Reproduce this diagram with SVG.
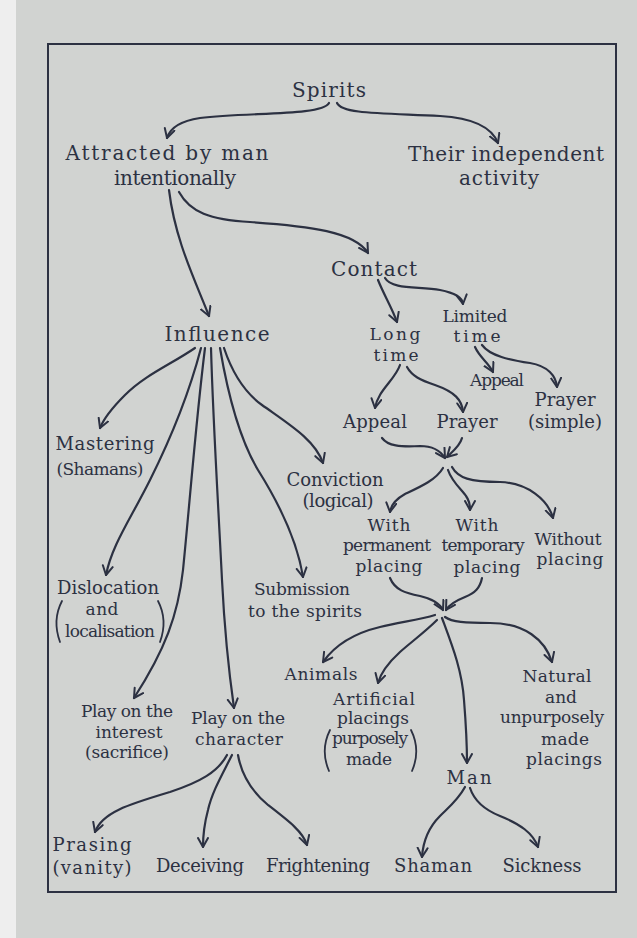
<svg xmlns="http://www.w3.org/2000/svg" width="637" height="938" viewBox="0 0 637 938">
<defs>
<marker id="ah" markerUnits="userSpaceOnUse" markerWidth="14" markerHeight="14" refX="10" refY="6" orient="auto">
<path d="M1,1 L10,6 L1,11" fill="none" stroke="#2c3142" stroke-width="2" stroke-linecap="round" stroke-linejoin="round"/>
</marker>
</defs>
<style>
text{font-family:"DejaVu Serif","Liberation Serif",serif;fill:#2c3142;text-anchor:middle;}
.l{font-size:20px;}
.m{font-size:18px;}
.s{font-size:17px;}
#connectors path{fill:none;stroke:#2c3142;stroke-width:2.2;stroke-linecap:round;marker-end:url(#ah);}
.br{fill:none;stroke:#2c3142;stroke-width:1.8;stroke-linecap:round;}
</style>
<rect x="0" y="0" width="637" height="938" fill="#eeeeee"/>
<rect x="16" y="0" width="621" height="938" fill="#d1d3d1"/>
<rect x="48" y="44" width="568" height="848" fill="none" stroke="#2c3142" stroke-width="2"/>

<g id="connectors">
<path d="M329,103 C322,116 250,112 200,118 C180,121 170,128 167,138"/>
<path d="M337,103 C342,114 380,113 440,116 C475,118 492,128 498,143"/>
<path d="M169,190 C175,240 195,280 209,316"/>
<path d="M179,192 C190,212 210,220 250,222 C310,226 355,232 368,253"/>
<path d="M378,280 C384,295 392,308 397,322"/>
<path d="M385,278 C392,290 420,286 440,290 C455,293 462,297 463,304"/>
<path d="M475,347 C480,358 488,362 493,372"/>
<path d="M482,345 C490,356 510,360 530,363 C548,366 556,376 557,387"/>
<path d="M400,365 C395,380 378,390 375,408"/>
<path d="M407,367 C412,376 420,380 435,385 C455,392 462,400 463,412"/>
<path d="M382,438 C388,446 400,447 420,446 C432,446 440,450 445,458"/>
<path d="M462,438 C460,446 452,452 447,457"/>
<path d="M443,468 C436,480 420,487 405,494 C396,499 391,505 390,512"/>
<path d="M448,470 C452,482 462,490 466,496 C469,500 470,505 470,510"/>
<path d="M452,467 C458,478 470,482 500,482 C528,483 548,500 553,518"/>
<path d="M390,578 C395,590 405,593 420,596 C433,599 440,604 443,610"/>
<path d="M482,578 C480,588 475,593 465,597 C455,601 449,605 446,610"/>
<path d="M435,615 C420,620 400,622 380,627 C355,633 335,645 323,662"/>
<path d="M437,620 C425,632 410,643 400,652 C388,663 381,672 378,683"/>
<path d="M442,618 C452,645 462,670 464,700 C466,725 467,745 467,763"/>
<path d="M445,617 C452,622 465,623 490,623 C525,623 545,640 552,662"/>
<path d="M465,787 C458,800 448,808 440,816 C428,828 423,842 422,857"/>
<path d="M470,788 C474,800 485,810 500,816 C520,824 533,833 538,847"/>
<path d="M195,348 C170,365 145,375 125,395 C112,408 104,418 100,428"/>
<path d="M201,348 C190,390 175,430 150,480 C130,520 112,545 106,575"/>
<path d="M205,348 C196,420 190,500 183,570 C178,615 165,650 134,698"/>
<path d="M211,348 C213,420 218,500 222,580 C225,640 230,680 234,708"/>
<path d="M220,348 C228,395 240,440 258,470 C280,505 297,540 303,577"/>
<path d="M224,348 C232,372 244,392 262,405 C290,425 315,440 323,463"/>
<path d="M227,755 C218,772 200,782 170,792 C130,804 102,812 95,832"/>
<path d="M232,755 C222,775 212,792 208,810 C204,825 203,835 203,847"/>
<path d="M238,755 C241,772 250,790 268,805 C290,822 303,832 307,845"/>
</g>

<g id="spirits"><text class="l" x="329" y="97" textLength="74">Spirits</text></g>
<g id="attracted">
<text class="l" x="167" y="160" textLength="203">Attracted by man</text>
<text class="l" x="175" y="185" textLength="122">intentionally</text>
</g>
<g id="independent">
<text class="l" x="506" y="161" textLength="196">Their independent</text>
<text class="l" x="499" y="185" textLength="80">activity</text>
</g>
<g id="contact"><text class="l" x="374" y="276" textLength="86">Contact</text></g>
<g id="influence"><text class="l" x="217" y="341" textLength="105">Influence</text></g>
<g id="limited-time">
<text class="s" x="475" y="322" textLength="65">Limited</text>
<text class="s" x="477" y="342" textLength="47">time</text>
</g>
<g id="long-time">
<text class="s" x="395" y="340" textLength="51">Long</text>
<text class="s" x="396" y="361" textLength="45">time</text>
</g>
<g id="appeal-limited"><text class="s" x="497" y="386" textLength="54">Appeal</text></g>
<g id="prayer-simple">
<text class="m" x="565" y="406" textLength="61">Prayer</text>
<text class="m" x="565" y="428" textLength="74">(simple)</text>
</g>
<g id="appeal-long"><text class="m" x="375" y="428" textLength="64">Appeal</text></g>
<g id="prayer-long"><text class="m" x="467" y="428" textLength="61">Prayer</text></g>
<g id="mastering">
<text class="m" x="105" y="450" textLength="99">Mastering</text>
<text class="s" x="100" y="475" textLength="87">(Shamans)</text>
</g>
<g id="conviction">
<text class="m" x="335" y="486" textLength="97">Conviction</text>
<text class="m" x="338" y="507" textLength="71">(logical)</text>
</g>
<g id="with-permanent">
<text class="s" x="389" y="531" textLength="43">With</text>
<text class="s" x="387" y="551" textLength="88">permanent</text>
<text class="s" x="389" y="572" textLength="67">placing</text>
</g>
<g id="with-temporary">
<text class="s" x="477" y="531" textLength="43">With</text>
<text class="s" x="483" y="551" textLength="83">temporary</text>
<text class="s" x="487" y="573" textLength="67">placing</text>
</g>
<g id="without-placing">
<text class="s" x="568" y="545" textLength="67">Without</text>
<text class="s" x="570" y="565" textLength="67">placing</text>
</g>
<g id="dislocation">
<text class="m" x="108" y="594" textLength="102">Dislocation</text>
<text class="s" x="102" y="615" textLength="33">and</text>
<text class="s" x="110" y="637" textLength="90">localisation</text>
<path class="br" d="M62,601 Q52,620 60,642"/>
<path class="br" d="M158,601 Q168,620 160,642"/>
</g>
<g id="submission">
<text class="s" x="302" y="595" textLength="96">Submission</text>
<text class="s" x="305" y="617" textLength="114">to the spirits</text>
</g>
<g id="animals"><text class="s" x="321" y="680" textLength="73">Animals</text></g>
<g id="artificial">
<text class="s" x="374" y="705" textLength="82">Artificial</text>
<text class="s" x="373" y="724" textLength="72">placings</text>
<text class="s" x="370" y="744" textLength="76">purposely</text>
<text class="s" x="369" y="765" textLength="46">made</text>
<path class="br" d="M330,730 Q320,750 329,771"/>
<path class="br" d="M411,730 Q421,750 412,771"/>
</g>
<g id="natural">
<text class="s" x="557" y="682" textLength="69">Natural</text>
<text class="s" x="561" y="703" textLength="32">and</text>
<text class="s" x="552" y="723" textLength="104">unpurposely</text>
<text class="s" x="565" y="745" textLength="48">made</text>
<text class="s" x="564" y="765" textLength="76">placings</text>
</g>
<g id="man"><text class="m" x="469" y="784" textLength="45">Man</text></g>
<g id="play-interest">
<text class="s" x="127" y="717" textLength="92">Play on the</text>
<text class="s" x="129" y="738" textLength="67">interest</text>
<text class="s" x="127" y="758" textLength="84">(sacrifice)</text>
</g>
<g id="play-character">
<text class="s" x="238" y="724" textLength="94">Play on the</text>
<text class="s" x="239" y="745" textLength="88">character</text>
</g>
<g id="prasing">
<text class="m" x="92" y="851" textLength="79">Prasing</text>
<text class="m" x="92" y="874" textLength="79">(vanity)</text>
</g>
<g id="deceiving"><text class="m" x="200" y="872" textLength="88">Deceiving</text></g>
<g id="frightening"><text class="m" x="318" y="872" textLength="104">Frightening</text></g>
<g id="shaman"><text class="m" x="433" y="872" textLength="78">Shaman</text></g>
<g id="sickness"><text class="m" x="542" y="872" textLength="79">Sickness</text></g>
</svg>
